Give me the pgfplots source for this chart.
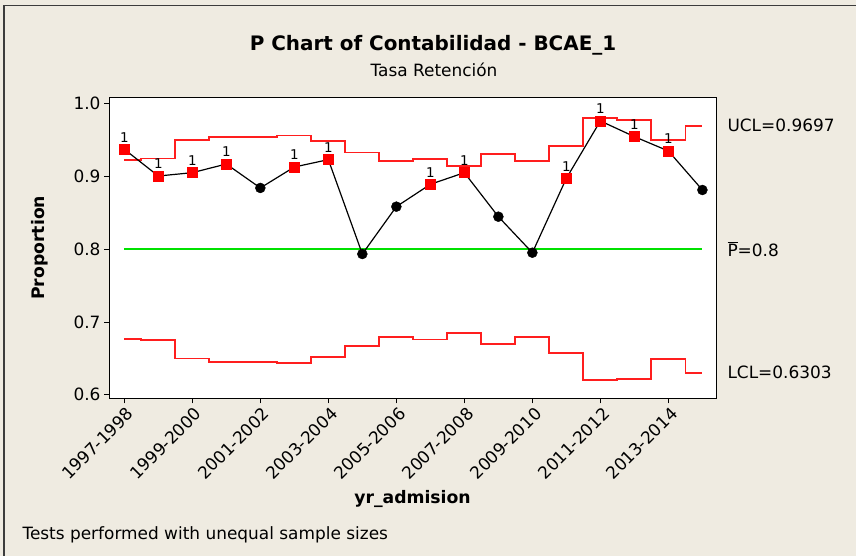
\documentclass[border=0pt]{standalone}
\usepackage{pgfplots}
\pgfplotsset{compat=1.18}
\usepackage{fontspec}
\setmainfont{DejaVu Sans}

\definecolor{bgpanel}{RGB}{239,235,225}
\definecolor{framegray}{RGB}{60,60,60}
\definecolor{limred}{RGB}{255,30,30}
\definecolor{ptred}{RGB}{255,0,0}
\definecolor{cgreen}{RGB}{0,225,0}

\newcommand{\txt}{\fontsize{17}{20}\selectfont}
\newcommand{\lbl}{\fontsize{17.3}{20}\selectfont\bfseries}

\begin{document}
\begin{tikzpicture}
\useasboundingbox (0bp,0bp) rectangle (856bp,556bp);
\fill[bgpanel] (0bp,0bp) rectangle (856bp,556bp);
\draw[framegray, line width=1.7bp] (4bp,0bp) -- (4bp,550.5bp) -- (856bp,550.5bp);

\node[font=\fontsize{20}{23}\selectfont\bfseries] at (433bp,511bp) {P Chart of Contabilidad - BCAE\_1};
\node[font=\txt] at (434bp,486bp) {Tasa Retención};
\node[font=\txt, anchor=west] at (19bp,21bp) {Tests performed with unequal sample sizes};

\begin{axis}[
    at={(109bp,157.7bp)}, anchor=south west,
    scale only axis,
    width=607bp, height=301bp,
    xmin=0.55, xmax=18.4,
    ymin=0.5952, ymax=1.0089,
    axis background/.style={fill=white},
    axis line style={black, line width=0.9bp},
    tick align=outside,
    major tick length=5bp,
    tick style={black, line width=0.9bp},
    xtick pos=bottom, ytick pos=left,
    xtick={1,3,...,17},
    xticklabels={1997-1998,1999-2000,2001-2002,2003-2004,2005-2006,2007-2008,2009-2010,2011-2012,2013-2014},
    ytick={0.6,0.7,0.8,0.9,1.0},
    ticklabel style={font=\txt},
    /pgf/number format/assume math mode=true,
    yticklabel style={/pgf/number format/.cd, fixed, fixed zerofill, precision=1},
    xticklabel style={rotate=45, anchor=north east, inner sep=1bp, yshift=-2bp},
    xlabel={yr\_admision},
    ylabel={Proportion},
    every axis x label/.style={at={(axis description cs:0.5,-0.336)}, anchor=center, font=\lbl},
    every axis y label/.style={at={(axis description cs:-0.114,0.5)}, anchor=center, rotate=90, font=\lbl},
    clip=false,
]
% upper control limit
\addplot[const plot mark mid, draw=limred, line width=1.8bp, mark=none] coordinates {
 (1,0.9228) (2,0.9247) (3,0.9500) (4,0.9544) (5,0.9544) (6,0.9565)
 (7,0.9485) (8,0.9329) (9,0.9210) (10,0.9241) (11,0.9148) (12,0.9306)
 (13,0.9208) (14,0.9423) (15,0.9800) (16,0.9780) (17,0.9505) (18,0.9697)
};
% lower control limit
\addplot[const plot mark mid, draw=limred, line width=1.8bp, mark=none] coordinates {
 (1,0.6772) (2,0.6753) (3,0.6500) (4,0.6456) (5,0.6456) (6,0.6435)
 (7,0.6515) (8,0.6671) (9,0.6790) (10,0.6759) (11,0.6852) (12,0.6694)
 (13,0.6792) (14,0.6577) (15,0.6200) (16,0.6220) (17,0.6495) (18,0.6303)
};
% center line
\addplot[draw=cgreen, line width=1.6bp, mark=none] coordinates {(1,0.8) (18,0.8)};
% proportions
\addplot[draw=black, line width=1.2bp, mark=none] coordinates {
 (1,0.9375) (2,0.9007) (3,0.9053) (4,0.9172) (5,0.8843) (6,0.9131)
 (7,0.9232) (8,0.7935) (9,0.8586) (10,0.8893) (11,0.9053) (12,0.8448)
 (13,0.7953) (14,0.8976) (15,0.9764) (16,0.9548) (17,0.9351) (18,0.8815)
};
\addplot[only marks, mark=*, mark size=5bp, color=black] coordinates {
 (5,0.8843) (8,0.7935) (9,0.8586) (12,0.8448) (13,0.7953) (18,0.8815)
};
\addplot[only marks, mark=square*, mark size=5bp, color=ptred,
    nodes near coords={1},
    every node near coord/.style={font=\fontsize{13.5}{14}\selectfont, text=black, anchor=south, inner sep=0pt, yshift=7bp}]
 coordinates {
 (1,0.9375) (2,0.9007) (3,0.9053) (4,0.9172) (6,0.9131) (7,0.9232)
 (10,0.8893) (11,0.9053) (14,0.8976) (15,0.9764) (16,0.9548) (17,0.9351)
};
\node[font=\txt, anchor=west, xshift=8bp] at (axis cs:18.4,0.9697) {UCL=0.9697};
\node[font=\txt, anchor=west, xshift=8bp] at (axis cs:18.4,0.8) {$\overline{\hbox{P}}$=0.8};
\node[font=\txt, anchor=west, xshift=8bp] at (axis cs:18.4,0.6303) {LCL=0.6303};
\end{axis}
\end{tikzpicture}
\end{document}
